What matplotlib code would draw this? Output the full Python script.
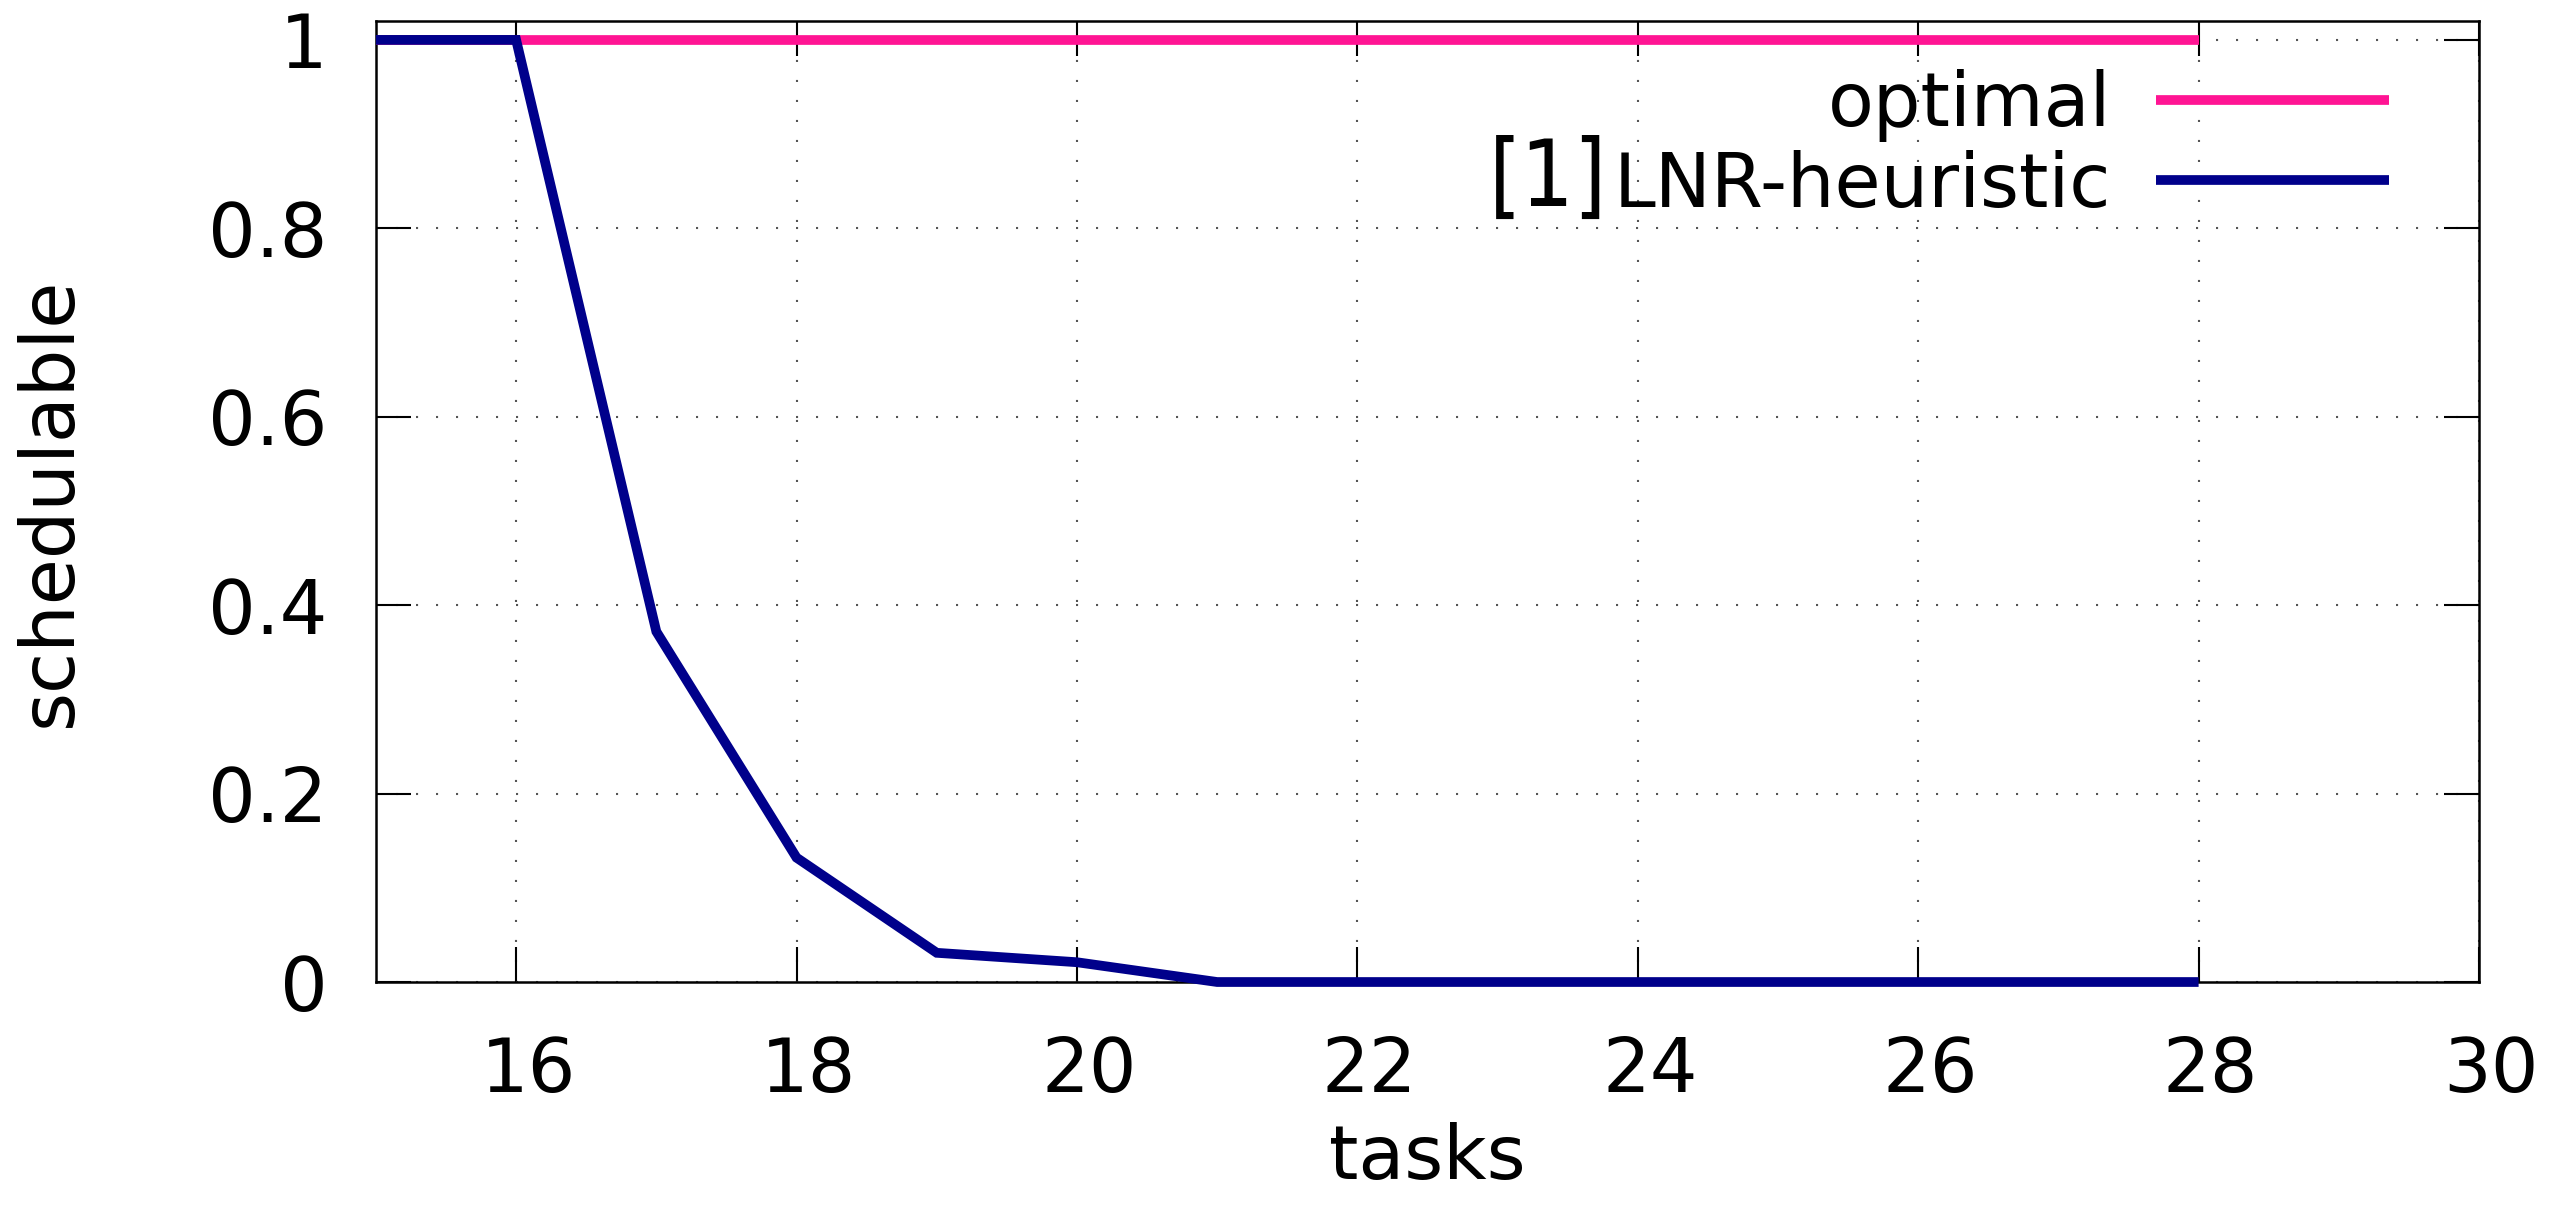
import matplotlib.pyplot as plt
import matplotlib.transforms as mtransforms
from matplotlib import font_manager

tasks = [15, 16, 17, 18, 19, 20, 21, 22, 23, 24, 25, 26, 27, 28]
optimal = [1, 1, 1, 1, 1, 1, 1, 1, 1, 1, 1, 1, 1, 1]
lnr = [1, 1, 0.372, 0.132, 0.031, 0.021, 0, 0, 0, 0, 0, 0, 0, 0]

x_ticks = [16, 18, 20, 22, 24, 26, 28, 30]
y_ticks = [0, 0.2, 0.4, 0.6, 0.8, 1]
y_ticklabels = ['0', '0.2', '0.4', '0.6', '0.8', '1']

plt.rcParams['font.family'] = 'DejaVu Sans'
fs = 54
lw = 7

fig = plt.figure(figsize=(25.66, 12.24), dpi=100)
ax = fig.add_axes([0.1465, 0.1977, 0.8196, 0.7851])

ax.plot(tasks, optimal, color='#ff1493', lw=lw, solid_capstyle='butt',
        clip_on=False, label='optimal', zorder=3)
ax.plot(tasks, lnr, color='#00008b', lw=lw, solid_capstyle='butt',
        solid_joinstyle='miter', clip_on=False, label='LNR-heuristic', zorder=4)

ax.set_xlim(15, 30)
ax.set_ylim(0, 1.02)
ax.set_xticks(x_ticks)
ax.set_yticks(y_ticks)
ax.set_yticklabels(y_ticklabels)

ax.tick_params(direction='in', length=25, width=1.5, labelsize=fs,
               top=True, right=True, color='black')
ax.tick_params(axis='y', pad=35)
ax.tick_params(axis='x', pad=38)
for lab in ax.get_xticklabels():
    lab.set_transform(lab.get_transform() +
                      mtransforms.ScaledTranslation(12 / 100, 0, fig.dpi_scale_trans))

for sp in ax.spines.values():
    sp.set_linewidth(1.8)

ax.grid(True, color='#555555', lw=1.5, linestyle=(0, (1, 8.6)))
ax.set_axisbelow(True)

ax.set_xlabel('tasks', fontsize=fs)
ax.set_ylabel('schedulable', fontsize=fs)
ax.xaxis.set_label_coords(0.5, -0.146)
ax.yaxis.set_label_coords(-0.155, 0.5)
ax.yaxis.label.set_va('center')

leg = ax.legend(loc='upper right', bbox_to_anchor=(0.957, 0.95), frameon=False,
                fontsize=fs, markerfirst=False, handlelength=3.1,
                handletextpad=0.6, labelspacing=0.1, borderpad=0, borderaxespad=0)
for line in leg.get_lines():
    line.set_linewidth(lw)
    line.set_solid_capstyle('butt')

# the "[1]" citation sits in front of the second label, bigger and narrower
cond = font_manager.FontProperties(family='DejaVu Sans', stretch='condensed', size=67)
fig.canvas.draw()
bb = leg.get_texts()[1].get_window_extent()
fig.text(bb.x0 - 6, bb.y0 + 17, '[1]', fontproperties=cond, ha='right',
         va='baseline', transform=None)

fig.savefig('out.png', dpi=100)
